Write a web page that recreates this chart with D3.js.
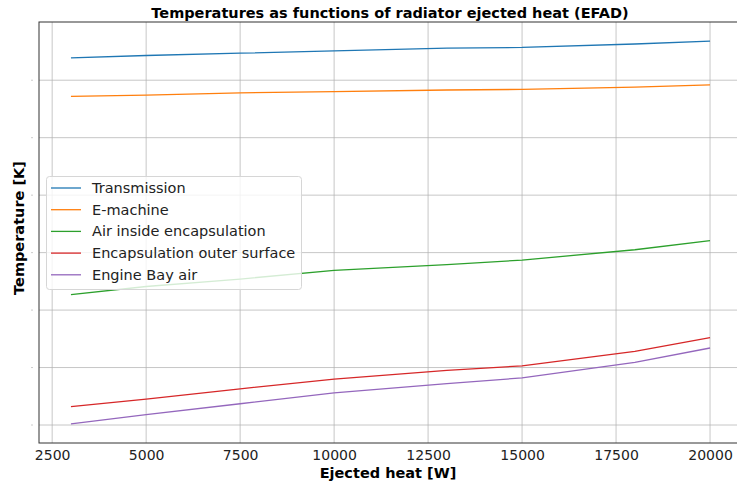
<!DOCTYPE html>
<html>
<head>
<meta charset="utf-8">
<script src="https://cdn.jsdelivr.net/npm/d3@7"></script>
<style>
  body { margin: 0; background: #fff; }
  text { font-family: "DejaVu Sans", sans-serif; }
</style>
</head>
<body>
<div id="chart"></div>
<script>
// ejected heat [W]
const heat = [3000, 5000, 7500, 10000, 13000, 15000, 18000, 20000]

const transmission = [363.9, 364.3, 364.7, 365.1, 365.6, 365.7, 366.3, 366.8]
const eMachine = [357.2, 357.4, 357.8, 358.0, 358.3, 358.4, 358.8, 359.2]
const airInside = [322.7, 324.1, 325.4, 326.9, 327.9, 328.7, 330.5, 332.1]
const outerSurface = [303.2, 304.5, 306.3, 308.0, 309.5, 310.3, 312.8, 315.2]
const engineBay = [300.2, 301.8, 303.7, 305.6, 307.2, 308.2, 310.9, 313.4]

const seriesNames = ['Transmission', 'E-machine', 'Air inside encapsulation', 'Encapsulation outer surface', 'Engine Bay air']
const xTicks = [2500, 5000, 7500, 10000, 12500, 15000, 17500, 20000]
const yTicks = [300, 310, 320, 330, 340, 350, 360]

const colors = ['#1f77b4', '#ff7f0e', '#2ca02c', '#d62728', '#9467bd']
const series = [transmission, eMachine, airInside, outerSurface, engineBay]

const W = 737, H = 484
const margin = { top: 22, left: 39, right: -5, bottom: 41 }

const svg = d3.select('#chart').append('svg')
  .attr('width', W).attr('height', H)

const x = d3.scaleLinear().domain([2150, 20850]).range([margin.left, W - margin.right])
const yMin = d3.min(series.flat()), yMax = d3.max(series.flat())
const pad = (yMax - yMin) * 0.05
const y = d3.scaleLinear().domain([yMin - pad, yMax + pad]).range([H - margin.bottom, margin.top])

const bottom = H - margin.bottom

// grid
svg.append('g').selectAll('line').data(xTicks).enter().append('line')
  .attr('x1', d => x(d)).attr('x2', d => x(d))
  .attr('y1', margin.top).attr('y2', bottom)
  .attr('stroke', '#b0b0b0').attr('stroke-opacity', 0.8).attr('stroke-width', 0.9)
svg.append('g').selectAll('line').data(yTicks).enter().append('line')
  .attr('x1', margin.left).attr('x2', W)
  .attr('y1', d => y(d)).attr('y2', d => y(d))
  .attr('stroke', '#b0b0b0').attr('stroke-opacity', 0.8).attr('stroke-width', 0.9)

// lines
const line = d3.line().x((d, i) => x(heat[i])).y(d => y(d))
svg.append('g').selectAll('path').data(series).enter().append('path')
  .attr('d', line)
  .attr('fill', 'none')
  .attr('stroke', (d, i) => colors[i])
  .attr('stroke-width', 1.3)

// axes (no visible tick marks, y labels reduced to tiny dots)
const xAxis = svg.append('g').attr('transform', `translate(0,${bottom})`)
  .call(d3.axisBottom(x).tickValues(xTicks).tickFormat(d3.format('d')).tickSize(0).tickPadding(0))
xAxis.select('.domain').remove()
xAxis.selectAll('text').attr('font-size', 14).attr('fill', '#222').attr('y', 17).attr('dy', 0)

svg.append('g').selectAll('rect').data(yTicks).enter().append('rect')
  .attr('x', 31.5).attr('y', d => y(d) - 0.5).attr('width', 1).attr('height', 1)
  .attr('fill', '#999')

// spines
svg.append('rect')
  .attr('x', margin.left).attr('y', margin.top)
  .attr('width', W + 10 - margin.left).attr('height', bottom - margin.top)
  .attr('fill', 'none').attr('stroke', '#333').attr('stroke-width', 1)

// title and labels
svg.append('text').attr('x', 390).attr('y', 18)
  .attr('text-anchor', 'middle').attr('font-size', 14.5).attr('font-weight', 'bold')
  .text('Temperatures as functions of radiator ejected heat (EFAD)')
svg.append('text').attr('x', 388).attr('y', 478)
  .attr('text-anchor', 'middle').attr('font-size', 14.5).attr('font-weight', 'bold')
  .text('Ejected heat [W]')
svg.append('text')
  .attr('transform', 'translate(24,228) rotate(-90)')
  .attr('text-anchor', 'middle').attr('font-size', 14.5).attr('font-weight', 'bold')
  .text('Temperature [K]')

// legend
const legend = svg.append('g')
legend.append('rect')
  .attr('x', 46.5).attr('y', 176.5).attr('width', 255).attr('height', 113).attr('rx', 3)
  .attr('fill', '#fff').attr('fill-opacity', 0.8).attr('stroke', '#d6d6d6')
const item = legend.selectAll('g.item').data(seriesNames).enter().append('g')
  .attr('transform', (d, i) => `translate(0,${188 + i * 21.7})`)
item.append('line').attr('x1', 51).attr('x2', 81)
  .attr('stroke', (d, i) => colors[i]).attr('stroke-width', 1.3)
item.append('text').attr('x', 92).attr('dy', '0.35em')
  .attr('font-size', 14.5).attr('fill', '#222').text(d => d)
</script>
</body>
</html>
